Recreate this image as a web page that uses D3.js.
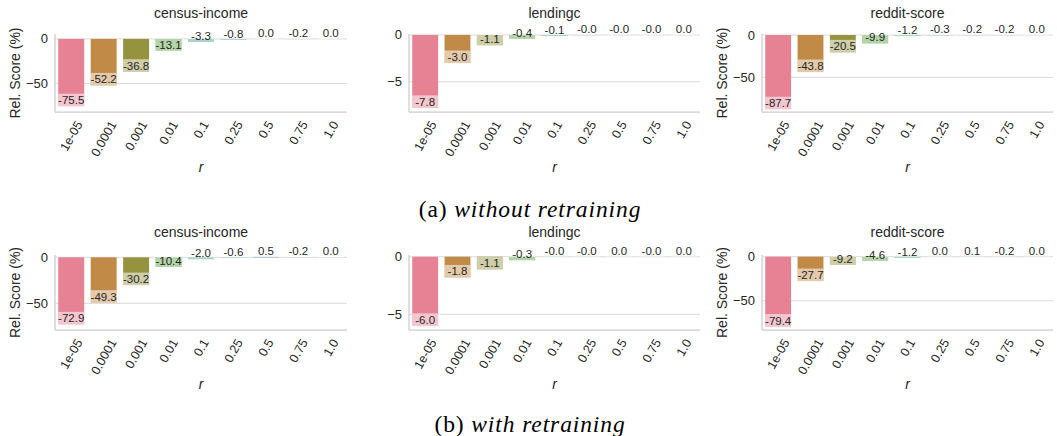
<!DOCTYPE html>
<html>
<head>
<meta charset="utf-8">
<script src="https://cdn.jsdelivr.net/npm/d3@7"></script>
<style>
  body { margin: 0; background: #fff; }
  text { font-family: "Liberation Sans", Arial, sans-serif; }
</style>
</head>
<body>
<script>
// categories on the x axis (the r values)
const rLabels = ["1e-05", "0.0001", "0.001", "0.01", "0.1", "0.25", "0.5", "0.75", "1.0"];

// relative score (%), without retraining
const censusNoRetrain = [-75.5, -52.2, -36.8, -13.1, -3.3, -0.8, 0.0, -0.2, 0.0];
const lendingcNoRetrain = [-7.8, -3.0, -1.1, -0.4, -0.1, -0.02, -0.01, -0.01, 0.0];
const redditNoRetrain = [-87.7, -43.8, -20.5, -9.9, -1.2, -0.3, -0.2, -0.2, 0.0];

// relative score (%), with retraining
const censusRetrain = [-72.9, -49.3, -30.2, -10.4, -2.0, -0.6, 0.5, -0.2, 0.0];
const lendingcRetrain = [-6.0, -1.8, -1.1, -0.3, -0.02, -0.01, 0.0, -0.01, 0.0];
const redditRetrain = [-79.4, -27.7, -9.2, -4.6, -1.2, 0.0, 0.1, -0.2, 0.0];

// y ticks per dataset
const ticksCensus = [0, -50];
const ticksLending = [0, -5];
const ticksReddit = [0, -50];

const captions = [["(a) ", "without retraining"], ["(b) ", "with retraining"]];

// seaborn husl palette (9), desaturated like barplot does (0.75)
const husl9 = ["#f77189", "#d58c32", "#a4a031", "#50b131", "#34ae91", "#37abb5", "#3ba3ec", "#bb83f4", "#f564d4"];
const barColors = husl9.map(c => {
  const h = d3.hsl(c);
  h.s = h.s * 0.75;
  return h.formatHex();
});

///////////// set up canvas
const width = 1057, height = 436;
const svg = d3.select("body").append("svg")
  .attr("width", width)
  .attr("height", height);

// panel geometry
const cols = [{ left: 55, right: 347 }, { left: 409, right: 700 }, { left: 762, right: 1053 }];
const rows = [
  { top: 34, bottom: 112, titleY: 18, xlabelY: 172, captionY: 217 },
  { top: 255, bottom: 330, titleY: 236.5, xlabelY: 389, captionY: 432 }
];

const panels = [
  { row: 0, col: 0, title: "census-income", values: censusNoRetrain, ylim: [-82, 5.5], ticks: ticksCensus, ylabel: true },
  { row: 0, col: 1, title: "lendingc", values: lendingcNoRetrain, ylim: [-8.24, 0.1], ticks: ticksLending, ylabel: false },
  { row: 0, col: 2, title: "reddit-score", values: redditNoRetrain, ylim: [-91, 1.2], ticks: ticksReddit, ylabel: true },
  { row: 1, col: 0, title: "census-income", values: censusRetrain, ylim: [-79, 2.5], ticks: ticksCensus, ylabel: true },
  { row: 1, col: 1, title: "lendingc", values: lendingcRetrain, ylim: [-6.36, 0.15], ticks: ticksLending, ylabel: false },
  { row: 1, col: 2, title: "reddit-score", values: redditRetrain, ylim: [-83.3, 1.9], ticks: ticksReddit, ylabel: true }
];

const grey = "#cccccc";
const textColor = "#262626";
const tickFmt = d3.format("d"); // gives the unicode minus like matplotlib

panels.forEach(p => {
  const c = cols[p.col], r = rows[p.row];
  const g = svg.append("g");
  const data = rLabels.map((lab, i) => ({ r: lab, v: p.values[i], color: barColors[i] }));

  const x = d3.scaleBand().domain(rLabels).range([c.left, c.right])
    .paddingInner(0.2).paddingOuter(0.1);
  const y = d3.scaleLinear().domain(p.ylim).range([r.bottom, r.top]);

  // horizontal grid lines
  g.selectAll(".grid").data(p.ticks).enter().append("line")
    .attr("x1", c.left).attr("x2", c.right)
    .attr("y1", d => y(d)).attr("y2", d => y(d))
    .attr("stroke", "#dadada").attr("stroke-width", 1);

  // bars
  g.selectAll(".bar").data(data).enter().append("rect")
    .attr("x", d => x(d.r))
    .attr("width", x.bandwidth())
    .attr("y", d => Math.min(y(d.v), y(0)))
    .attr("height", d => Math.abs(y(d.v) - y(0)))
    .attr("fill", d => d.color);

  // label boxes (white, semi transparent) sitting on the bar end
  g.selectAll(".lbox").data(data).enter().append("rect")
    .attr("x", d => x(d.r))
    .attr("width", x.bandwidth())
    .attr("y", d => y(d.v) - 12.5)
    .attr("height", 12.5)
    .attr("fill", "#fff")
    .attr("fill-opacity", 0.55);

  // value labels
  g.selectAll(".lab").data(data).enter().append("text")
    .attr("x", d => x(d.r) + x.bandwidth() / 2)
    .attr("y", d => y(d.v) - 2)
    .attr("text-anchor", "middle")
    .attr("font-size", 11.5)
    .attr("fill", textColor)
    .text(d => d.v.toFixed(1));

  // spines (left and bottom only)
  g.append("line").attr("x1", c.left).attr("x2", c.left)
    .attr("y1", r.top).attr("y2", r.bottom)
    .attr("stroke", grey).attr("stroke-width", 1.25);
  g.append("line").attr("x1", c.left).attr("x2", c.right)
    .attr("y1", r.bottom).attr("y2", r.bottom)
    .attr("stroke", grey).attr("stroke-width", 1.25);

  // y tick labels
  g.selectAll(".ytick").data(p.ticks).enter().append("text")
    .attr("x", c.left - 7)
    .attr("y", d => y(d))
    .attr("dy", "0.35em")
    .attr("text-anchor", "end")
    .attr("font-size", 13)
    .attr("fill", textColor)
    .text(d => tickFmt(d));

  // x tick labels, rotated 60 deg and centred under the tick like matplotlib
  const fs = 12.5, pad = 7, rad = 60 * Math.PI / 180;
  g.selectAll(".xtick").data(rLabels).enter().append("text")
    .attr("text-anchor", "middle")
    .attr("dy", "0.35em")
    .attr("font-size", fs)
    .attr("fill", textColor)
    .text(d => d)
    .each(function (d) {
      const w = this.getComputedTextLength();
      const bh = w * Math.sin(rad) + fs * Math.cos(rad);
      const cx = x(d) + x.bandwidth() / 2;
      const cy = r.bottom + pad + bh / 2;
      d3.select(this).attr("transform", `translate(${cx},${cy}) rotate(-60)`);
    });

  // title
  g.append("text")
    .attr("x", (c.left + c.right) / 2)
    .attr("y", r.titleY)
    .attr("text-anchor", "middle")
    .attr("font-size", 14)
    .attr("fill", textColor)
    .text(p.title);

  // x label
  g.append("text")
    .attr("x", (c.left + c.right) / 2)
    .attr("y", r.xlabelY)
    .attr("text-anchor", "middle")
    .attr("font-size", 14)
    .attr("font-style", "italic")
    .attr("fill", textColor)
    .text("r");

  // y label
  if (p.ylabel) {
    g.append("text")
      .attr("transform", `translate(${c.left - 40},${(r.top + r.bottom) / 2}) rotate(-90)`)
      .attr("dy", "0.35em")
      .attr("text-anchor", "middle")
      .attr("font-size", 14)
      .attr("fill", textColor)
      .text("Rel. Score (%)");
  }
});

// sub captions
rows.forEach((r, i) => {
  const t = svg.append("text")
    .attr("x", 530)
    .attr("y", r.captionY)
    .attr("text-anchor", "middle")
    .attr("font-size", 23.5)
    .attr("letter-spacing", 0.9)
    .style("font-family", "'Liberation Serif', 'Times New Roman', serif")
    .attr("fill", "#000");
  t.append("tspan").text(captions[i][0]);
  t.append("tspan").attr("font-style", "italic").text(captions[i][1]);
});
</script>
</body>
</html>
